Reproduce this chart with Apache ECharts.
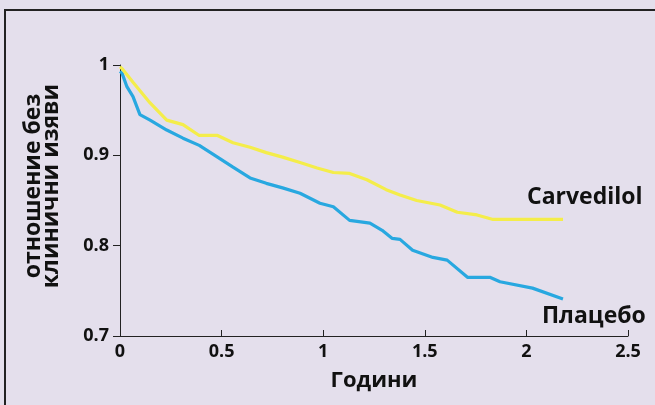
<!DOCTYPE html>
<html><head><meta charset="utf-8">
<script src="https://cdn.jsdelivr.net/npm/echarts@6/dist/echarts.min.js"></script>
<style>html,body{margin:0;padding:0;background:#e4dfec}#c{width:655px;height:405px}</style>
</head><body><div id="c"></div>
<script>
const xTicks = [0, 0.5, 1, 1.5, 2, 2.5];
const yTicks = [0.7, 0.8, 0.9, 1];
const carvedilolT = [0, 0.01, 0.064, 0.148, 0.23, 0.31, 0.39, 0.48, 0.556, 0.64, 0.72, 0.80, 0.886, 0.97, 1.05, 1.13, 1.215, 1.31, 1.378, 1.46, 1.575, 1.66, 1.757, 1.836, 2.18];
const carvedilolV = [0.998, 0.996, 0.981, 0.958, 0.939, 0.934, 0.922, 0.922, 0.914, 0.909, 0.903, 0.898, 0.892, 0.886, 0.881, 0.880, 0.873, 0.862, 0.856, 0.850, 0.845, 0.837, 0.834, 0.829, 0.829];
const placeboT = [0, 0.01, 0.034, 0.064, 0.098, 0.148, 0.23, 0.31, 0.39, 0.48, 0.556, 0.64, 0.72, 0.80, 0.886, 0.984, 1.05, 1.13, 1.23, 1.29, 1.34, 1.378, 1.44, 1.54, 1.61, 1.71, 1.82, 1.87, 2.03, 2.18];
const placeboV = [0.993, 0.991, 0.976, 0.965, 0.945, 0.939, 0.928, 0.919, 0.911, 0.898, 0.887, 0.875, 0.869, 0.864, 0.858, 0.847, 0.843, 0.828, 0.825, 0.817, 0.808, 0.807, 0.795, 0.787, 0.784, 0.765, 0.765, 0.760, 0.753, 0.741];
const seriesNames = ['Carvedilol', 'Плацебо'];
const xName = 'Години';
const yName = 'отношение без\nклинични изяви';

const font = '"Open Sans", "Noto Sans", sans-serif';
const chart = echarts.init(document.getElementById('c'));
const zip = (a, b) => a.map((t, i) => [t, b[i]]);
chart.setOption({
  backgroundColor: '#e4dfec',
  animation: false,
  grid: {left: 120, right: 27, top: 65, bottom: 69},
  xAxis: {
    type: 'value', min: 0, max: 2.5, interval: 0.5,
    name: xName, nameLocation: 'middle', nameGap: 34,
    nameTextStyle: {fontFamily: font, fontWeight: 'bold', fontSize: 22, color: '#111'},
    axisLine: {lineStyle: {color: '#222', width: 1}},
    axisTick: {inside: true, length: 6, lineStyle: {color: '#222'}},
    axisLabel: {fontFamily: font, fontWeight: 'bold', fontSize: 18, color: '#111', margin: 7,
      formatter: v => xTicks.includes(v) ? String(v) : ''},
    splitLine: {show: false}
  },
  yAxis: {
    type: 'value', min: 0.7, max: 1, interval: 0.1,
    axisLine: {show: true, lineStyle: {color: '#222', width: 1}},
    axisTick: {show: true, length: 7, lineStyle: {color: '#222'}},
    axisLabel: {fontFamily: font, fontWeight: 'bold', fontSize: 18, color: '#111', margin: 11,
      formatter: v => { const m = yTicks.find(t => Math.abs(t - v) < 1e-6); return m === undefined ? '' : String(m); }},
    splitLine: {show: false}
  },
  series: [
    {name: seriesNames[0], type: 'line', data: zip(carvedilolT, carvedilolV), showSymbol: false,
     lineStyle: {color: '#f4ed4a', width: 3.2}, z: 3,
     endLabel: {show: true, formatter: seriesNames[0], offset: [-44, -22], fontFamily: font, fontWeight: 'bold', fontSize: 23, color: '#111'}},
    {name: seriesNames[1], type: 'line', data: zip(placeboT, placeboV), showSymbol: false,
     lineStyle: {color: '#28a8e0', width: 3.2}, z: 2,
     endLabel: {show: true, formatter: seriesNames[1], offset: [-29, 17], fontFamily: font, fontWeight: 'bold', fontSize: 23, color: '#111'}}
  ],
  graphic: [
    {type: 'rect', shape: {x: 5, y: 10, width: 700, height: 500}, style: {fill: 'none', stroke: '#222', lineWidth: 2}, silent: true},
    {type: 'text', x: 42, y: 186, rotation: Math.PI / 2,
     style: {text: yName, fontFamily: font, fontWeight: 'bold', fontSize: 23, lineHeight: 18, fill: '#111', align: 'center', verticalAlign: 'middle'}}
  ]
});
</script></body></html>
